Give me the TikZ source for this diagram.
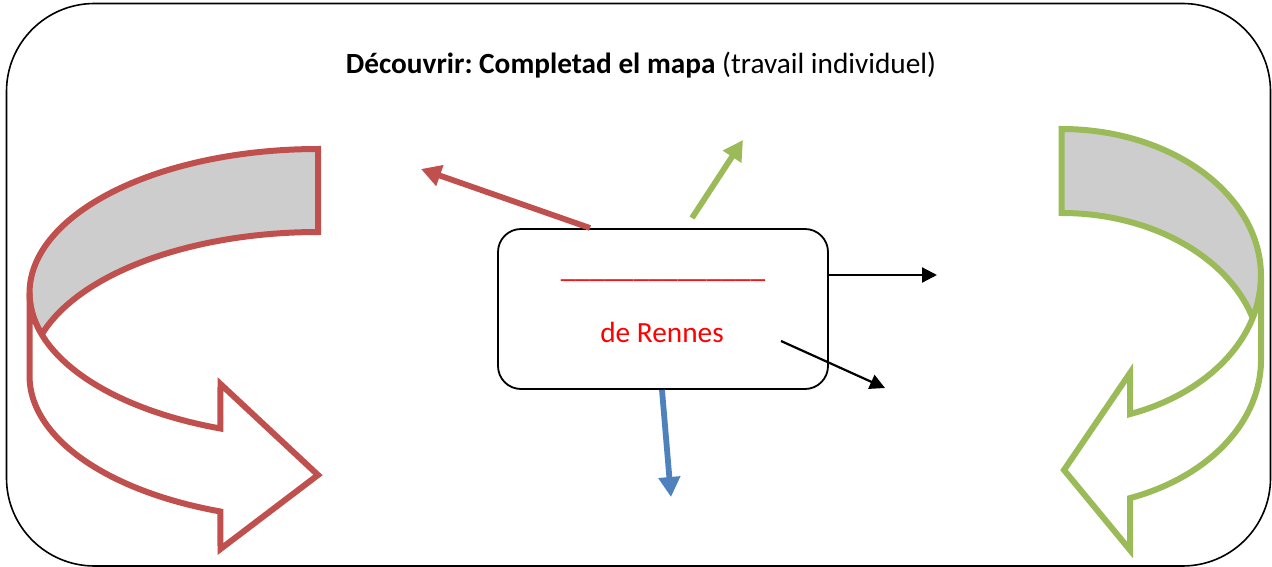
\documentclass[tikz,border=0pt]{standalone}
\usepackage{fontspec}
\setmainfont{Carlito}
\usetikzlibrary{arrows.meta}
\definecolor{accred}{HTML}{C0504D}
\definecolor{accgreen}{HTML}{9BBB59}
\definecolor{accblue}{HTML}{4F81BD}
\definecolor{bandgrey}{HTML}{CDCDCD}
\frenchspacing
\begin{document}
\begin{tikzpicture}[x=1pt,y=-1pt,
  frame/.style={draw=black,line width=1.6pt,rounded corners=88pt},
  mapbox/.style={draw=black,line width=1.8pt,rounded corners=23pt,
    minimum width=330pt,minimum height=160pt,inner sep=0pt},
  bigtext/.style={font=\fontsize{29.3}{35}\selectfont,inner sep=0pt},
  curved/.style={line width=6pt,miter limit=10},
  thick pointer/.style={line width=5.8pt,-{Triangle[length=20pt,width=21pt]}},
  thin pointer/.style={line width=2.2pt,-{Triangle[length=15pt,width=15pt]}}]
\useasboundingbox (0,0) rectangle (1272,567);

% outer frame
\draw[frame] (6.5,3.5) rectangle (1270.5,566);

% title
\node[bigtext,anchor=base] (title) at (641,74)
  {\textbf{Découvrir: Completad el mapa} (travail individuel)};

% central box with the blank to fill in
\node[mapbox] (box) at (663,309) {};
\node[bigtext,anchor=base,text=red] (blank) at (663,277) {\_\_\_\_\_\_\_\_\_\_\_\_\_\_};
\node[bigtext,anchor=base,text=red] (city) at (662,342) {de Rennes};

% arrow end points
\coordinate (redtail) at (590,228);
\coordinate (redtip) at (421,169);
\coordinate (greentail) at (692,218);
\coordinate (greentip) at (743,140);
\coordinate (bluetip) at (671,497);
\coordinate (eastout) at (937,275);
\coordinate (diagin) at (781,341);
\coordinate (diagout) at (885,388);

\draw[thick pointer,accred] (redtail) -- (redtip);
\draw[thick pointer,accgreen] (greentail) -- (greentip);
\draw[thick pointer,accblue] (box.south) ++(-1,0) coordinate (bluetail) -- (bluetip);
\draw[thin pointer] (box.east |- eastout) coordinate (easttail) -- (eastout);
\draw[thin pointer] (diagin) -- (diagout);

% left curved arrow: grey band on top
\filldraw[curved,draw=accred,fill=bandgrey]
  plot[domain=90:196.75,samples=70] ({318+288.5*cos(\x)},{293-144*sin(\x)})
  -- plot[domain=163.25:90,samples=70] ({318+288.5*cos(\x)},{376-144*sin(\x)})
  -- cycle;
% left curved arrow: lower part with the head
\filldraw[curved,draw=accred,fill=white]
  plot[domain=196.75:250.24,samples=40] ({318+288.5*cos(\x)},{293-144*sin(\x)})
  -- (220.5,384) -- (318,475) -- (220.5,549)
  -- plot[domain=250.24:180,samples=50] ({318+288.5*cos(\x)},{376-144*sin(\x)})
  -- plot[domain=180:196.75,samples=12] ({318+288.5*cos(\x)},{293-144*sin(\x)})
  -- cycle;

% right curved arrow: grey band on top
\filldraw[curved,draw=accgreen,fill=bandgrey]
  plot[domain=90:-16.6,samples=70] ({1061.7+199.3*cos(\x)},{276-147*sin(\x)})
  -- plot[domain=16.6:90,samples=70] ({1061.7+199.3*cos(\x)},{360-147*sin(\x)})
  -- cycle;
% right curved arrow: lower part with the head
\filldraw[curved,draw=accgreen,fill=white]
  plot[domain=-16.6:-69.96,samples=40] ({1061.7+199.3*cos(\x)},{276-147*sin(\x)})
  -- (1130,373) -- (1064,470) -- (1130,550)
  -- plot[domain=-69.96:0,samples=50] ({1061.7+199.3*cos(\x)},{360-147*sin(\x)})
  -- plot[domain=0:-16.6,samples=12] ({1061.7+199.3*cos(\x)},{276-147*sin(\x)})
  -- cycle;
\end{tikzpicture}
\end{document}
